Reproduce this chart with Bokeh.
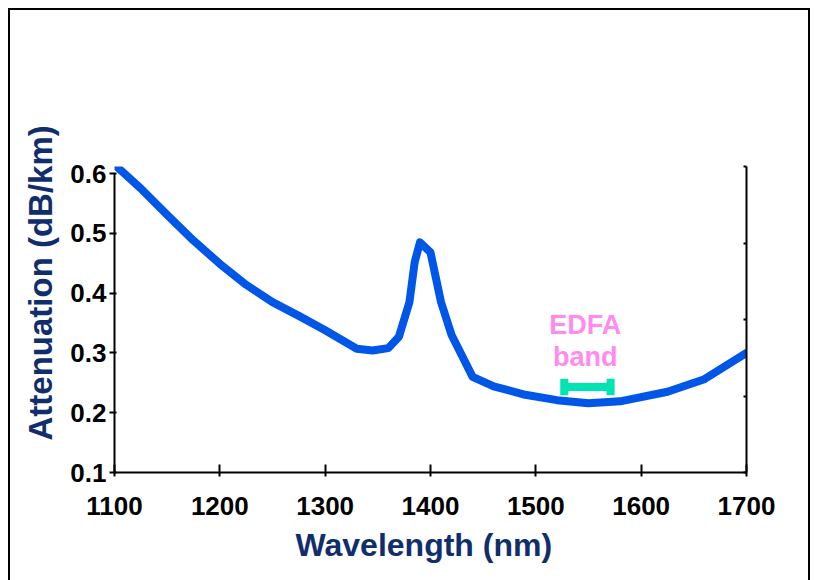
from bokeh.plotting import figure
from bokeh.models import Range1d, LinearAxis, FixedTicker, Label, Title
from bokeh.embed import file_html
from bokeh.resources import INLINE

# ---- data ----
wavelength_nm = [1100, 1125, 1150, 1175, 1200, 1225, 1250, 1275, 1300, 1330, 1345,
                 1360, 1370, 1380, 1385, 1390, 1400, 1410, 1420, 1440, 1460, 1490,
                 1520, 1550, 1580, 1625, 1660, 1700]
attenuation_db_km = [0.615, 0.575, 0.531, 0.488, 0.449, 0.414, 0.385, 0.362, 0.338,
                     0.307, 0.304, 0.308, 0.327, 0.385, 0.452, 0.485, 0.468, 0.385,
                     0.330, 0.260, 0.244, 0.230, 0.221, 0.216, 0.219, 0.235, 0.256,
                     0.300]
x_ticks = [1100, 1200, 1300, 1400, 1500, 1600, 1700]
y_ticks = [0.1, 0.2, 0.3, 0.4, 0.5, 0.6]
y_tick_labels = ["0.1", "0.2", "0.3", "0.4", "0.5", "0.6"]
edfa_band_nm = [1527, 1571]
edfa_band_level = 0.243
edfa_label = ["EDFA", "band"]
x_title = "Wavelength (nm)"
y_title = "Attenuation (dB/km)"

FONT = "Liberation Sans"
NAVY = "#112E6C"
BLUE = "#0057E7"
PINK = "#FF8AF0"
TEAL = "#00E3B2"

p = figure(width=802, height=572, output_backend="svg", toolbar_location=None,
           x_range=Range1d(1100, 1700), y_range=Range1d(0.1, 0.6118),
           min_border_left=104, min_border_right=66, min_border_top=156,
           min_border_bottom=110, margin=(8, 0, 0, 8),
           background_fill_color="white", border_fill_color="white")
p.styles = {"border-top": "2px solid black", "border-left": "2px solid black",
            "border-right": "2px solid black"}
p.outline_line_color = None
p.xgrid.visible = False
p.ygrid.visible = False
p.xaxis.visible = False
p.yaxis.visible = False

# bottom axis
xax = LinearAxis(ticker=FixedTicker(ticks=x_ticks))
xax.axis_line_width = 2
xax.major_tick_line_width = 2
xax.major_tick_in = 8
xax.major_tick_out = 4
xax.minor_tick_line_color = None
xax.major_label_standoff = 20
xax.major_label_text_font = FONT
xax.major_label_text_font_style = "bold"
xax.major_label_text_font_size = "26px"
xax.major_label_text_color = "black"
p.add_layout(xax, "below")

# left axis
yax = LinearAxis(ticker=FixedTicker(ticks=y_ticks), bounds=(0.1, 0.6))
yax.major_label_overrides = {t: l for t, l in zip(y_ticks, y_tick_labels)}
yax.axis_line_width = 2
yax.major_tick_line_width = 2
yax.major_tick_in = 2
yax.major_tick_out = 5
yax.minor_tick_line_color = None
yax.major_label_standoff = 3
yax.major_label_text_font = FONT
yax.major_label_text_font_style = "bold"
yax.major_label_text_font_size = "26px"
yax.major_label_text_color = "black"
p.add_layout(yax, "left")

# right axis (unlabelled, 4 intervals)
p.extra_y_ranges = {"right": Range1d(0, 4)}
rax = LinearAxis(y_range_name="right", ticker=FixedTicker(ticks=[0, 1, 2, 3, 4]))
rax.axis_line_width = 2
rax.major_tick_line_width = 2
rax.major_tick_in = 3
rax.major_tick_out = 0
rax.minor_tick_line_color = None
rax.major_label_text_font_size = "0px"
rax.major_label_text_color = None
p.add_layout(rax, "right")

# axis titles
p.add_layout(Title(text=x_title, align="left", offset=181, text_font=FONT,
                   text_font_style="bold", text_font_size="32px", text_color=NAVY,
                   standoff=14), "below")
p.add_layout(Title(text=y_title, align="left", offset=32, text_font=FONT,
                   text_font_style="bold", text_font_size="33px", text_color=NAVY,
                   standoff=18), "left")

# attenuation curve
p.line(wavelength_nm, attenuation_db_km, line_color=BLUE, line_width=8,
       line_join="round", line_cap="round")

# EDFA band marker
p.segment(x0=[edfa_band_nm[0]], y0=[edfa_band_level], x1=[edfa_band_nm[1]],
          y1=[edfa_band_level], line_color=TEAL, line_width=8)
p.segment(x0=edfa_band_nm, y0=[edfa_band_level - 0.014] * 2, x1=edfa_band_nm,
          y1=[edfa_band_level + 0.014] * 2, line_color=TEAL, line_width=8)
mid = (edfa_band_nm[0] + edfa_band_nm[1]) / 2
for txt, yy in zip(edfa_label, [0.3475, 0.294]):
    p.add_layout(Label(x=mid - 2, y=yy, text=txt, text_align="center",
                       text_baseline="middle", text_font=FONT, text_font_style="bold",
                       text_font_size="27px", text_color=PINK))

open("out.html", "w").write(file_html(p, INLINE))
